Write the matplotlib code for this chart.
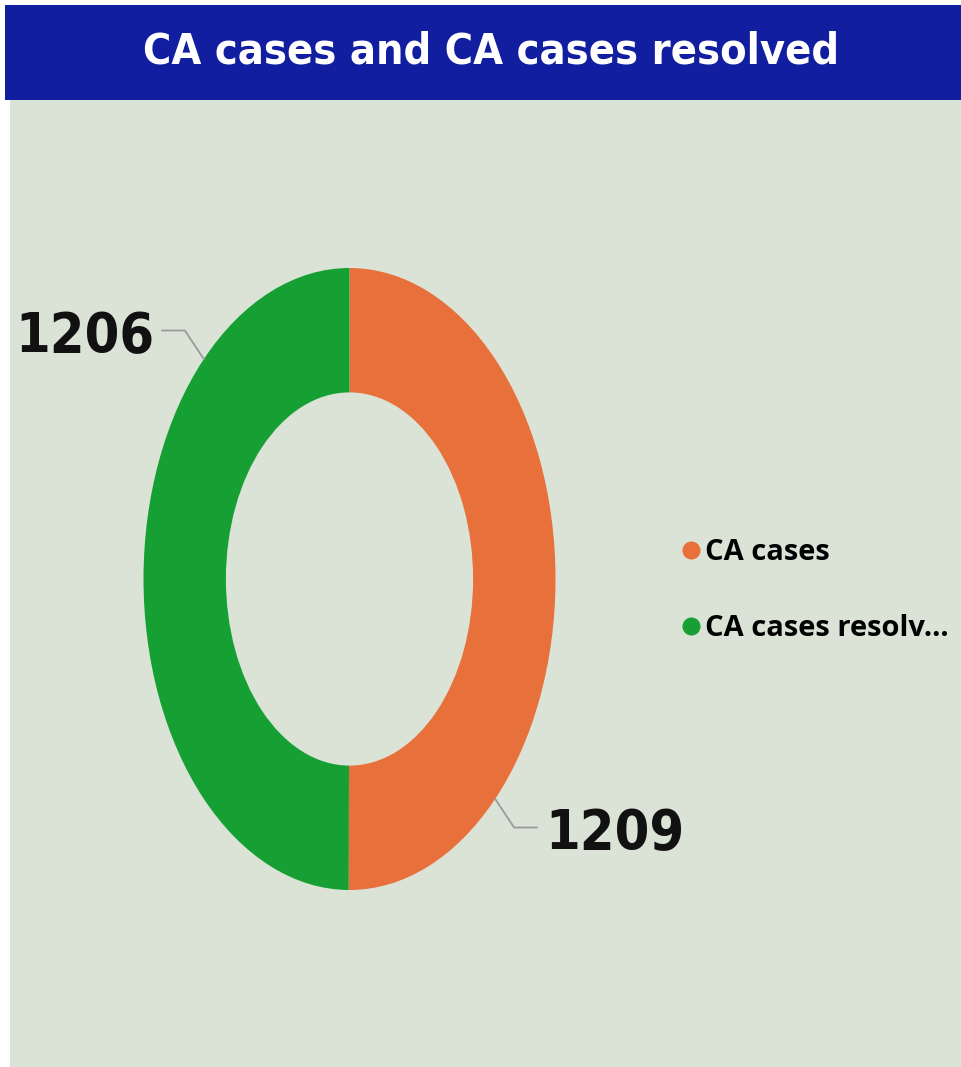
import numpy as np
import matplotlib.pyplot as plt
from matplotlib import font_manager
from matplotlib.patches import Rectangle
from matplotlib.lines import Line2D

# data
labels = ['CA cases', 'CA cases resolved']
legend_labels = ['CA cases', 'CA cases resolv...']
values = [1209, 1206]
colors = ['#E8703A', '#16A034']
label_angles = [-45, 135]   # where the value labels sit around the ring

bg = '#DAE3D6'
title_blue = '#111EA0'

# pick the narrowest bold font we have
names = {f.name for f in font_manager.fontManager.ttflist}
cond = [f for f in font_manager.fontManager.ttflist
        if f.name == 'DejaVu Sans' and 'ondensed' in str(f.stretch) + f.fname]
if 'Liberation Sans Narrow' in names:
    narrow = dict(family='Liberation Sans Narrow')
elif cond:
    narrow = dict(family='DejaVu Sans', stretch='condensed')
else:
    narrow = dict(family='Roboto')

W, H = 961, 1067
fig = plt.figure(figsize=(W / 100, H / 100), dpi=100)
fig.patch.set_facecolor('white')

# panel background and title bar
fig.patches.append(Rectangle((10 / W, 0), 1, 1 - 100 / H, transform=fig.transFigure,
                             facecolor=bg, edgecolor='none', zorder=-2))
fig.patches.append(Rectangle((5 / W, 1 - 100 / H), 1, 95 / H, transform=fig.transFigure,
                             facecolor=title_blue, edgecolor='none', zorder=-2))
fig.text(491 / W, 1 - 52 / H, 'CA cases and CA cases resolved', color='white',
         fontsize=31, fontweight='bold', ha='center', va='center', **narrow)

# donut (stretched like the original)
ax = fig.add_axes([143.5 / W, (H - 890) / H, 412 / W, 622 / H])
ax.set_zorder(2)
wedges, _ = ax.pie(values, colors=colors, startangle=90, counterclock=False,
                   wedgeprops=dict(width=0.4, edgecolor='none'))
ax.set_aspect('auto')
ax.set_xlim(-1, 1)
ax.set_ylim(-1, 1)
ax.axis('off')

for v, a in zip(values, label_angles):
    r = np.deg2rad(a)
    x0, y0 = np.cos(r), np.sin(r)
    side = np.sign(x0)
    x1, y1 = x0 * 1.13, y0 * 1.13
    x2 = x1 + side * 0.11
    ax.plot([x0, x1, x2], [y0, y1, y1], color='#9A9A9A', lw=1.3, clip_on=False)
    ax.text(x2 + side * 0.04, y1 - 0.02, str(v), fontsize=40, fontweight='bold',
            ha='left' if side > 0 else 'right', va='center',
            color='#111111', clip_on=False, **narrow)

# legend
handles = [Line2D([], [], marker='o', ls='none', markersize=12, color=c) for c in colors]
leg = fig.legend(handles, legend_labels, loc='upper left',
                 bbox_to_anchor=(650 / W, 1 - 512 / H), frameon=False,
                 handletextpad=0.0, handlelength=1.0, labelspacing=1.6,
                 prop=dict(family='Open Sans', weight='bold', size=21))

fig.savefig('out.png', dpi=100, facecolor=fig.get_facecolor())
